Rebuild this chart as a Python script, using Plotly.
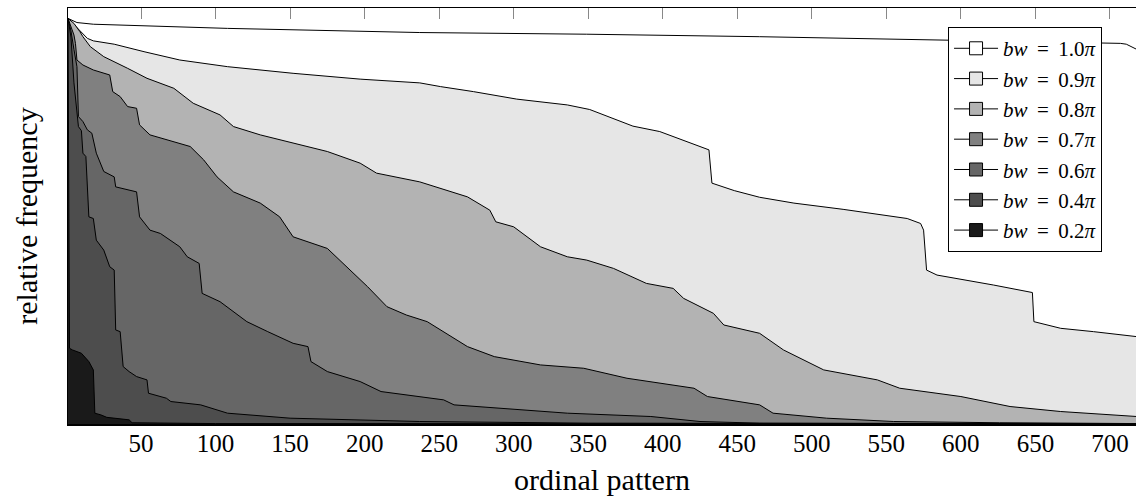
import plotly.graph_objects as go

# ---- data (pattern index, relative frequency) ----
labels = ["1.0", "0.9", "0.8", "0.7", "0.6", "0.4", "0.2"]
fill_colors = ["#ffffff", "#e6e6e6", "#b3b3b3", "#808080", "#666666", "#4d4d4d", "#1a1a1a"]

x_10 = [1, 7, 18, 108, 237, 349, 465, 559, 592, 707, 711, 718, 720]
y_10 = [0.975, 0.965, 0.961, 0.951, 0.941, 0.937, 0.931, 0.925, 0.923, 0.915, 0.913, 0.899, 0.897]

x_09 = [1, 9, 14, 18, 32, 52, 76, 108, 152, 197, 237, 251, 273, 302, 336, 351, 369, 380, 398, 407,
        425, 431, 433, 448, 465, 488, 521, 564, 573, 575, 577, 584, 622, 648, 649, 667, 689, 718, 720]
y_09 = [0.975, 0.947, 0.927, 0.921, 0.913, 0.895, 0.875, 0.859, 0.843, 0.829, 0.820, 0.811, 0.799,
        0.781, 0.767, 0.756, 0.731, 0.716, 0.703, 0.691, 0.667, 0.659, 0.579, 0.561, 0.545, 0.531,
        0.516, 0.494, 0.482, 0.466, 0.370, 0.358, 0.334, 0.316, 0.246, 0.230, 0.222, 0.210, 0.207]

x_08 = [1, 5, 9, 11, 16, 25, 41, 54, 72, 85, 103, 112, 130, 152, 175, 197, 208, 237, 251, 269, 284,
        288, 300, 318, 336, 349, 367, 389, 407, 414, 434, 441, 465, 470, 481, 508, 544, 559, 600,
        633, 667, 718, 720]
y_08 = [0.975, 0.963, 0.943, 0.931, 0.907, 0.883, 0.855, 0.831, 0.807, 0.771, 0.743, 0.715, 0.695,
        0.675, 0.655, 0.627, 0.603, 0.582, 0.567, 0.546, 0.514, 0.486, 0.474, 0.426, 0.402, 0.394,
        0.374, 0.338, 0.326, 0.302, 0.266, 0.238, 0.218, 0.206, 0.178, 0.130, 0.106, 0.086, 0.066,
        0.042, 0.030, 0.018, 0.017]

x_07 = [1, 3, 5, 6, 7, 11, 18, 29, 31, 36, 41, 47, 49, 56, 72, 83, 92, 101, 112, 130, 143, 152, 175,
        181, 193, 202, 215, 228, 242, 255, 269, 287, 318, 347, 376, 421, 430, 465, 474, 510, 555,
        626, 720]
y_07 = [0.975, 0.955, 0.935, 0.915, 0.875, 0.863, 0.851, 0.839, 0.799, 0.787, 0.763, 0.759, 0.719,
        0.695, 0.679, 0.667, 0.635, 0.594, 0.558, 0.531, 0.498, 0.450, 0.422, 0.402, 0.362, 0.330,
        0.282, 0.262, 0.246, 0.218, 0.186, 0.162, 0.142, 0.134, 0.110, 0.086, 0.066, 0.046, 0.026,
        0.014, 0.006, 0.003, 0.001]

x_06 = [1, 3, 5, 7, 8, 11, 14, 17, 20, 25, 32, 33, 47, 49, 56, 63, 76, 81, 89, 91, 103, 121, 135,
        152, 162, 164, 175, 197, 211, 237, 253, 260, 291, 336, 392, 425, 465, 720]
y_06 = [0.975, 0.945, 0.900, 0.859, 0.739, 0.727, 0.707, 0.699, 0.651, 0.607, 0.594, 0.570, 0.558,
        0.498, 0.466, 0.458, 0.426, 0.402, 0.386, 0.314, 0.294, 0.246, 0.222, 0.194, 0.186, 0.150,
        0.126, 0.102, 0.078, 0.066, 0.058, 0.046, 0.038, 0.026, 0.018, 0.006, 0.002, 0.0005]

x_04 = [1, 3, 5, 7, 8, 10, 11, 13, 15, 18, 20, 25, 29, 32, 33, 36, 38, 42, 47, 54, 55, 67, 70, 90,
        108, 150, 237, 350, 720]
y_04 = [0.975, 0.930, 0.820, 0.755, 0.715, 0.705, 0.651, 0.643, 0.498, 0.494, 0.442, 0.418, 0.378,
        0.370, 0.226, 0.222, 0.138, 0.126, 0.114, 0.106, 0.074, 0.062, 0.054, 0.046, 0.026, 0.014,
        0.006, 0.002, 0.0005]

x_02 = [1, 2, 4, 10, 15, 18, 19, 23, 27, 42, 44, 100, 720]
y_02 = [0.975, 0.182, 0.178, 0.170, 0.150, 0.130, 0.026, 0.022, 0.016, 0.010, 0.003, 0.001, 0.0002]

xs = [x_10, x_09, x_08, x_07, x_06, x_04, x_02]
ys = [y_10, y_09, y_08, y_07, y_06, y_04, y_02]

tick_vals = [50, 100, 150, 200, 250, 300, 350, 400, 450, 500, 550, 600, 650, 700]

FONT = "Liberation Serif"
SP = "\u2009 "  # slightly wider spacing around "="

fig = go.Figure()
for xv, yv, c in zip(xs, ys, fill_colors):
    fig.add_trace(go.Scatter(
        x=xv, y=yv, mode="lines", fill="tozeroy", fillcolor=c,
        line=dict(color="black", width=1), showlegend=False, hoverinfo="skip",
    ))

# legend-only entries (line + square marker)
for lab, c in zip(labels, fill_colors):
    fig.add_trace(go.Scatter(
        x=[None], y=[None], mode="lines+markers",
        line=dict(color="black", width=1),
        marker=dict(symbol="square", size=13, color=c, line=dict(color="black", width=1)),
        name=f"<i>bw</i>{SP}={SP}{lab}<i>π</i>",
    ))

# invisible trace on top axis so that it is drawn
fig.add_trace(go.Scatter(x=[None], y=[None], xaxis="x2", showlegend=False))

fig.update_layout(
    width=1136, height=498,
    margin=dict(l=68, r=0, t=8, b=74),
    plot_bgcolor="white", paper_bgcolor="white",
    font=dict(family=FONT, color="black", size=25),
    xaxis=dict(
        range=[1, 717.5], tickvals=tick_vals, ticks="", showgrid=False, zeroline=False,
        showline=True, linecolor="black", linewidth=2,
        tickfont=dict(family=FONT, size=25), ticklabelstandoff=-4,
        title=dict(text="ordinal pattern", font=dict(family=FONT, size=30), standoff=13),
    ),
    xaxis2=dict(
        overlaying="x", side="top", matches="x", range=[1, 717.5], tickvals=tick_vals,
        ticks="inside", ticklen=11, tickcolor="#888888", tickwidth=1,
        showticklabels=False, showgrid=False, zeroline=False,
        showline=True, linecolor="black", linewidth=1,
    ),
    yaxis=dict(
        range=[0, 1], showticklabels=False, ticks="", showgrid=False, zeroline=False,
        showline=True, linecolor="black", linewidth=1,
        title=dict(text="relative frequency", font=dict(family=FONT, size=30), standoff=20),
    ),
    legend=dict(
        x=0.824, y=0.954, xanchor="left", yanchor="top",
        bgcolor="white", bordercolor="black", borderwidth=1,
        font=dict(family=FONT, size=21), itemwidth=44,
    ),
)

fig.write_html("out.html")
